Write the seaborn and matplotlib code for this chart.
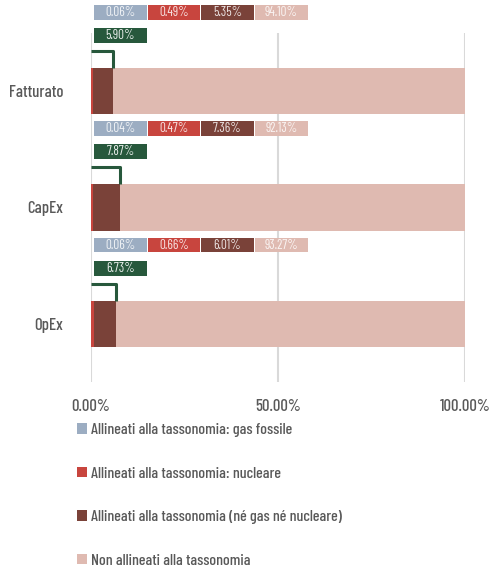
import matplotlib
matplotlib.use("Agg")
import matplotlib.pyplot as plt
from matplotlib.patches import Patch, Rectangle
import pandas as pd
import seaborn as sns

# Valori (percentuali)
categories = ["Fatturato", "CapEx", "OpEx"]
gas_fossile = [0.06, 0.04, 0.06]
nucleare = [0.49, 0.47, 0.66]
ne_gas_ne_nucleare = [5.35, 7.36, 6.01]
non_allineati = [94.10, 92.13, 93.27]
totale_allineati = [5.90, 7.87, 6.73]

series_labels = [
    "Allineati alla tassonomia: gas fossile",
    "Allineati alla tassonomia: nucleare",
    "Allineati alla tassonomia (né gas né nucleare)",
    "Non allineati alla tassonomia",
]
colors = ["#9cadc2", "#c8453e", "#7a4239", "#dfbab1"]
green = "#27583c"
text_grey = "#595959"

sns.set_style("white")
plt.rcParams["font.family"] = ["Barlow Condensed", "DejaVu Sans"]
plt.rcParams["font.weight"] = 500

df = pd.DataFrame({
    "Categoria": categories,
    "gas": gas_fossile,
    "nucleare": nucleare,
    "ne": ne_gas_ne_nucleare,
    "non": non_allineati,
})
series = ["gas", "nucleare", "ne", "non"]
cum = df[series].cumsum(axis=1)

fig = plt.figure(figsize=(4.91, 5.75), dpi=100)
ax = fig.add_axes([91 / 491, 193 / 575, 374 / 491, 349 / 575])

# stacked bars: draw cumulative totals from the largest to the smallest
for s, c in reversed(list(zip(series, colors))):
    sns.barplot(x=cum[s], y=df["Categoria"], color=c, width=0.4,
                orient="h", ax=ax, linewidth=0, saturation=1)

ax.set_xlim(0, 100)
ax.set_ylim(2.5, -0.5)
ax.set_xticks([0, 50, 100])
ax.set_xticklabels(["0.00%", "50.00%", "100.00%"])
ax.grid(axis="x", color="#d9d9d9", linewidth=1.5)
ax.set_axisbelow(True)
for sp in ax.spines.values():
    sp.set_visible(False)
ax.tick_params(axis="x", length=0, pad=12, labelsize=12, labelcolor=text_grey)
ax.tick_params(axis="y", length=0, pad=20, labelsize=12, labelcolor=text_grey)
ax.set_xlabel("")
ax.set_ylabel("")

# etichette con i valori sopra ogni barra
box_x = [0.8, 15.15, 29.4, 43.85]
box_w = 14.1
for i, cat in enumerate(categories):
    vals = [gas_fossile[i], nucleare[i], ne_gas_ne_nucleare[i], non_allineati[i]]
    for j, v in enumerate(vals):
        ax.add_patch(Rectangle((box_x[j], i - 0.74), box_w, 0.125, color=colors[j],
                               clip_on=False, linewidth=0))
        ax.text(box_x[j] + box_w / 2, i - 0.677, f"{v:.2f}%", ha="center", va="center",
                fontsize=9.5, fontweight=400, color="white", alpha=0.85, clip_on=False)
    ax.add_patch(Rectangle((box_x[0], i - 0.542), box_w, 0.128, color=green,
                           clip_on=False, linewidth=0))
    ax.text(box_x[0] + box_w / 2, i - 0.478, f"{totale_allineati[i]:.2f}%", ha="center",
            va="center", fontsize=9.5, fontweight=400, color="white", alpha=0.9, clip_on=False)
    # parentesi verde sul totale allineato
    ax.plot([0, totale_allineati[i], totale_allineati[i]], [i - 0.345, i - 0.345, i - 0.2],
            color=green, linewidth=2.2, solid_capstyle="butt", clip_on=False, zorder=1)

handles = [Patch(facecolor=c, edgecolor="none") for c in colors]
fig.legend(handles, series_labels, loc="upper left", bbox_to_anchor=(77 / 491, 1 - 423 / 575),
           frameon=False, fontsize=11.5, labelcolor=text_grey, handlelength=0.62,
           handleheight=0.62, handletextpad=0.25, labelspacing=1.85, borderpad=0,
           borderaxespad=0)

fig.savefig("out.png", dpi=100)
